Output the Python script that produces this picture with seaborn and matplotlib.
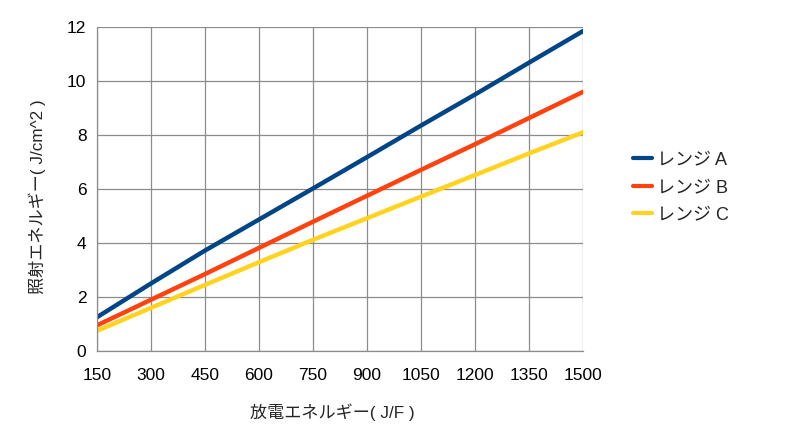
import numpy as np
import pandas as pd
import seaborn as sns
import matplotlib
matplotlib.use("Agg")
import matplotlib.pyplot as plt

x_vals = [150, 300, 450, 600, 750, 900, 1050, 1200, 1350, 1500]
range_a = [1.25, 2.5, 3.72, 4.87, 6.02, 7.18, 8.35, 9.5, 10.68, 11.85]
range_b = [0.95, 1.9, 2.85, 3.82, 4.79, 5.75, 6.71, 7.66, 8.63, 9.6]
range_c = [0.75, 1.6, 2.45, 3.29, 4.12, 4.92, 5.72, 6.52, 7.32, 8.1]
series_names = ["レンジ A", "レンジ B", "レンジ C"]
colors = ["#004586", "#ff420e", "#ffd320"]
x_label = "放電エネルギー( J/F )"
y_label = "照射エネルギー( J/cm^2 )"

sns.set_theme(style="white")
plt.rcParams['font.family'] = ['Liberation Sans', 'Noto Sans CJK JP', 'DejaVu Sans']

df = pd.DataFrame({
    "x": x_vals * 3,
    "y": range_a + range_b + range_c,
    "series": [series_names[0]] * len(x_vals) + [series_names[1]] * len(x_vals) + [series_names[2]] * len(x_vals),
})

fig = plt.figure(figsize=(8, 4.34), dpi=100)
ax = fig.add_axes([0.121, 0.191, 0.608, 0.747])
sns.lineplot(data=df, x="x", y="y", hue="series", palette=colors, linewidth=3.2, ax=ax, legend=True)

ax.set_xlim(150, 1500)
ax.set_ylim(0, 12)
ax.set_xticks(x_vals)
ax.set_yticks(range(0, 13, 2))
ax.grid(True, color="#8c8c8c", linewidth=0.9)
ax.set_axisbelow(True)
for s in ["top", "right"]:
    ax.spines[s].set_visible(False)
for s in ["left", "bottom"]:
    ax.spines[s].set_color("#8c8c8c")
    ax.spines[s].set_linewidth(0.9)
ax.tick_params(axis="both", labelsize=12.5, colors="black", length=4, width=0.9, direction="out")
ax.tick_params(axis="both", color="#8c8c8c")
ax.tick_params(axis="x", pad=8)
ax.set_xlabel(x_label, fontsize=12.3)
ax.set_ylabel(y_label, fontsize=12.3)
ax.xaxis.set_label_coords(0.485, -0.16)
ax.yaxis.set_label_coords(-0.105, 0.475)

leg = ax.legend(loc="center left", bbox_to_anchor=(1.07, 0.505), frameon=False, fontsize=13,
                handlelength=1.0, handletextpad=0.3, labelspacing=0.6)
for line in leg.get_lines():
    line.set_linewidth(3)

fig.savefig("out.png", dpi=100)
